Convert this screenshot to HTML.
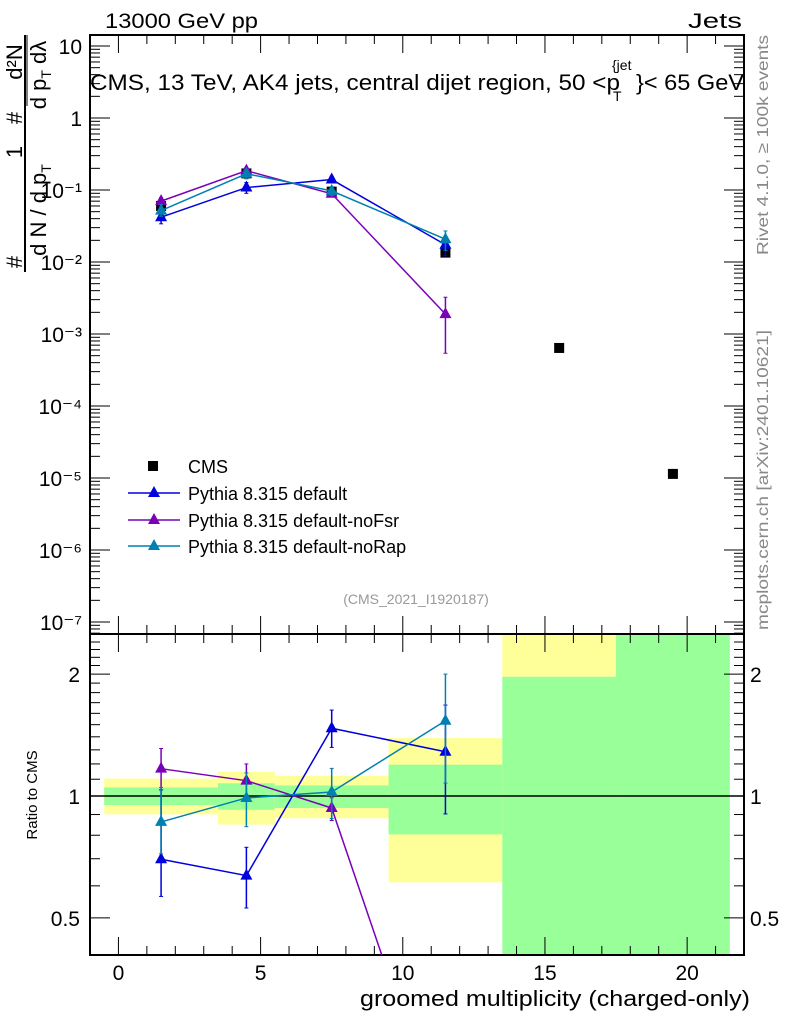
<!DOCTYPE html>
<html><head><meta charset="utf-8"><style>
html,body{margin:0;padding:0;background:#fff;overflow:hidden;width:786px;height:1024px;}
svg{display:block;font-family:"Liberation Sans",sans-serif;}
</style></head><body>
<svg id="c" width="786" height="1024" viewBox="0 0 786 1024" overflow="hidden" xmlns="http://www.w3.org/2000/svg">
<defs><clipPath id="rclip"><rect x="90" y="634" width="654" height="321"/></clipPath></defs>
<g id="bands"></g>
<g id="axes"></g>
<g id="marks"></g>
<text x="105" y="28" font-size="21" textLength="153" lengthAdjust="spacingAndGlyphs">13000 GeV pp</text>
<text x="688" y="28" font-size="21" textLength="54" lengthAdjust="spacingAndGlyphs">Jets</text>
<g>
<text x="90" y="90" font-size="22" textLength="530" lengthAdjust="spacingAndGlyphs">CMS, 13 TeV, AK4 jets, central dijet region, 50 &lt;p</text>
<text x="612" y="70" font-size="14">{jet</text>
<text x="613" y="101" font-size="14">T</text>
<text x="636" y="90" font-size="22" textLength="108" lengthAdjust="spacingAndGlyphs">}&lt; 65 GeV</text>
</g>
<text transform="translate(768,145) rotate(-90)" font-size="16" fill="#888" text-anchor="middle" textLength="220" lengthAdjust="spacingAndGlyphs">Rivet 4.1.0, ≥ 100k events</text>
<text transform="translate(768,480) rotate(-90)" font-size="16" fill="#888" text-anchor="middle" textLength="300" lengthAdjust="spacingAndGlyphs">mcplots.cern.ch [arXiv:2401.10621]</text>
<text x="416" y="604" font-size="14" fill="#999" text-anchor="middle">(CMS_2021_I1920187)</text>
<text x="360" y="1006" font-size="22" textLength="390" lengthAdjust="spacingAndGlyphs">groomed multiplicity (charged-only)</text>
<text transform="translate(37,795) rotate(-90)" font-size="15" text-anchor="middle">Ratio to CMS</text>
<g font-size="22">
<line x1="25" y1="35" x2="25" y2="272" stroke="#000" stroke-width="2"/>
<text transform="translate(22,262) rotate(-90)" text-anchor="middle">#</text>
<text transform="translate(22,152) rotate(-90)" text-anchor="middle">1</text>
<text transform="translate(46,210) rotate(-90)" text-anchor="middle">d N / d p<tspan font-size="14" dy="5">T</tspan></text>
<text transform="translate(22,118) rotate(-90)" text-anchor="middle">#</text>
<text transform="translate(22,62) rotate(-90)" text-anchor="middle">d²N</text>
<line x1="27" y1="35" x2="27" y2="106" stroke="#000" stroke-width="1"/>
<text transform="translate(46,75) rotate(-90)" text-anchor="middle">d p<tspan font-size="14" dy="5">T</tspan><tspan dy="-5"> dλ</tspan></text>
</g>
<g font-size="18">
<rect x="148" y="461" width="10" height="10" fill="#000"/>
<text x="188" y="473">CMS</text>
<line x1="128" y1="493" x2="180" y2="493" stroke="#0000dd" stroke-width="1.5"/><path d="M154,486 L160,497 L148,497Z" fill="#0000dd"/>
<text x="188" y="500">Pythia 8.315 default</text>
<line x1="128" y1="520" x2="180" y2="520" stroke="#7a00b8" stroke-width="1.5"/><path d="M154,513 L160,524 L148,524Z" fill="#7a00b8"/>
<text x="188" y="527">Pythia 8.315 default-noFsr</text>
<line x1="128" y1="546" x2="180" y2="546" stroke="#0080b0" stroke-width="1.5"/><path d="M154,539 L160,550 L148,550Z" fill="#0080b0"/>
<text x="188" y="553">Pythia 8.315 default-noRap</text>
</g>
</svg>
<script>
const xCenters=[1.5,4.5,7.5,11.5,15.5,19.5];
const binEdges=[-0.5,3.5,5.5,9.5,13.5,17.5,21.5];
const cmsValues=[0.06,0.17,0.095,0.0135,0.00064,0.0000114];
const bandYellowHi=[1.104,1.148,1.122,1.39,3.0,3.0];
const bandYellowLo=[0.901,0.85,0.881,0.612,1.97,0.3];
const bandGreenHi=[1.05,1.075,1.062,1.195,1.97,3.0];
const bandGreenLo=[0.95,0.925,0.934,0.804,0.3,0.3];
const defaultRatio=[0.698,0.636,1.47,1.286];
const defaultRatioHi=[1.035,0.747,1.63,1.677];
const defaultRatioLo=[0.565,0.529,1.318,0.903];
const nofsrRatio=[1.168,1.091,0.934,0.14];
const nofsrRatioHi=[1.31,1.2,0.99,0.24];
const nofsrRatioLo=[1.036,0.99,0.87,0.04];
const norapRatio=[0.863,0.989,1.023,1.534];
const norapRatioHi=[1.05,1.14,1.17,2.0];
const norapRatioLo=[0.72,0.84,0.88,1.076];
const mainTicks=["10","1","10⁻¹","10⁻²","10⁻³","10⁻⁴","10⁻⁵","10⁻⁶","10⁻⁷"];
const xTickLabels=[0,5,10,15,20];
const ratioTicks=[0.5,1,2];

const NS="http://www.w3.org/2000/svg";
const L=90,R=744,T=35,M=634,B=955;
const X=v=>L+(v+1)*(R-L)/23;
const Y=v=>46-72*Math.log10(v/10);
const YRraw=v=>796-405*Math.log10(v);
function el(tag,attrs,parent,text){const e=document.createElementNS(NS,tag);for(const k in attrs)e.setAttribute(k,attrs[k]);if(text!==undefined)e.textContent=text;parent.appendChild(e);return e;}
const bands=document.getElementById('bands'),axes=document.getElementById('axes'),marks=document.getElementById('marks');
const clamp=y=>Math.max(M,Math.min(B,y));
for(let i=0;i<6;i++){
 const x0=X(binEdges[i]),x1=X(binEdges[i+1]);
 let r=el('rect',{x:x0,y:clamp(YRraw(bandYellowHi[i])),width:x1-x0,height:clamp(YRraw(bandYellowLo[i]))-clamp(YRraw(bandYellowHi[i])),fill:'#ffff99'},bands);
 
 
 let g=el('rect',{x:x0,y:clamp(YRraw(bandGreenHi[i])),width:x1-x0,height:clamp(YRraw(bandGreenLo[i]))-clamp(YRraw(bandGreenHi[i])),fill:'#99ff99'},bands);
 
 
}
el('rect',{x:L,y:T,width:R-L,height:M-T,fill:'none',stroke:'#000','stroke-width':2},axes);
el('rect',{x:L,y:M,width:R-L,height:B-M,fill:'none',stroke:'#000','stroke-width':2},axes);
el('line',{x1:L,y1:796,x2:R,y2:796,stroke:'#000','stroke-width':1.5},axes);
for(let v=-1;v<=22;v++){
 const x=X(v),maj=v%5===0,len=maj?18:9;
 [[T,1],[M,1],[M,-1],[B,-1]].forEach(([y,d])=>el('line',{x1:x,y1:y,x2:x,y2:y+d*len,stroke:'#000','stroke-width':1},axes));
}
xTickLabels.forEach(v=>{const t=el('text',{x:X(v),y:980,'font-size':21,'text-anchor':'middle'},axes,String(v));});
for(let d=-8;d<=1;d++){for(let k=1;k<10;k++){const v=k*Math.pow(10,d);const y=Y(v);if(y<T||y>M)continue;const len=k===1?20:10;
 el('line',{x1:L,y1:y,x2:L+len,y2:y,stroke:'#000'},axes);el('line',{x1:R,y1:y,x2:R-len,y2:y,stroke:'#000'},axes);}}
mainTicks.forEach((s,i)=>{const t=el('text',{x:82,y:46+72*i+8,'font-size':21,'text-anchor':'end'},axes,s);});
for(let v=0.4;v<=2.5;v+=0.1){const y=YRraw(v);if(y<M||y>B)continue;const maj=[0.5,1,2].some(m=>Math.abs(m-v)<1e-6);const len=maj?20:10;
 el('line',{x1:L,y1:y,x2:L+len,y2:y,stroke:'#000'},axes);el('line',{x1:R,y1:y,x2:R-len,y2:y,stroke:'#000'},axes);}
ratioTicks.forEach(v=>{const y=YRraw(v)+8;
 let a=el('text',{x:80,y:y,'font-size':21,'text-anchor':'end'},axes,String(v));
 let b=el('text',{x:750,y:y,'font-size':21},axes,String(v));});
cmsValues.forEach((v,i)=>{const r=el('rect',{x:X(xCenters[i])-5,y:Y(v)-5,width:10,height:10,fill:'#000'},marks);});
const series=[['default','#0000dd',defaultRatio,defaultRatioHi,defaultRatioLo],['nofsr','#7a00b8',nofsrRatio,nofsrRatioHi,nofsrRatioLo],['norap','#0080b0',norapRatio,norapRatioHi,norapRatioLo]];
series.forEach(([nm,col,rat,hi,lo])=>{
 const g=el('g',{},marks);
 const rg=el('g',{'clip-path':'url(#rclip)'},g);
 let pm='',pr='';
 rat.forEach((r,i)=>{const x=X(xCenters[i]),c=cmsValues[i];
  const ym=Y(r*c),yr=YRraw(r);
  pm+=(i?'L':'M')+x+','+ym;pr+=(i?'L':'M')+x+','+yr;
  el('line',{x1:x,y1:Y(hi[i]*c),x2:x,y2:Y(lo[i]*c),stroke:col,'stroke-width':1.5},g);
  [hi[i],lo[i]].forEach(e=>el('line',{x1:x-2,y1:Y(e*c),x2:x+2,y2:Y(e*c),stroke:col},g));
  const tm=el('path',{d:`M${x},${ym-7}L${x+6},${ym+4}L${x-6},${ym+4}Z`,fill:col},g);
  el('line',{x1:x,y1:YRraw(hi[i]),x2:x,y2:YRraw(lo[i]),stroke:col,'stroke-width':1.5},rg);
  [hi[i],lo[i]].forEach(e=>el('line',{x1:x-2,y1:YRraw(e),x2:x+2,y2:YRraw(e),stroke:col},rg));
  const tr=el('path',{d:`M${x},${yr-7}L${x+6},${yr+4}L${x-6},${yr+4}Z`,fill:col},rg);
 });
 el('path',{d:pm,fill:'none',stroke:col,'stroke-width':1.5},g);
 el('path',{d:pr,fill:'none',stroke:col,'stroke-width':1.5},rg);
});
</script>
</body></html>
